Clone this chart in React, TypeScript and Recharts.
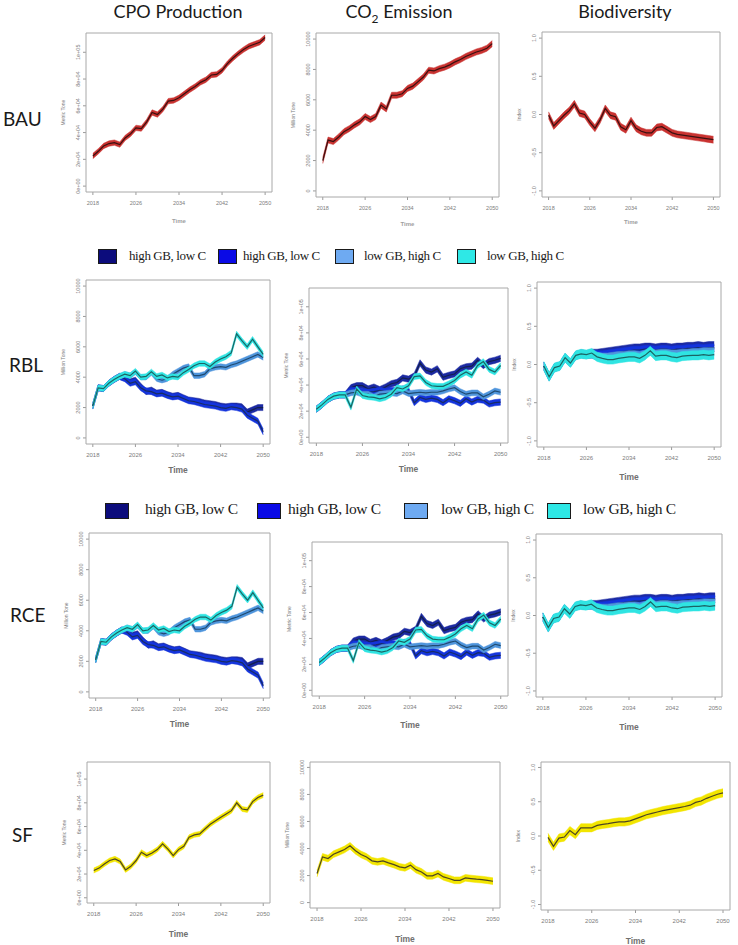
import { ComposedChart, Area, Line, XAxis, YAxis, ReferenceArea } from "recharts";

const years = [
  2018, 2019, 2020, 2021, 2022, 2023, 2024, 2025, 2026, 2027, 2028, 2029, 2030, 2031, 2032, 2033, 2034,
  2035, 2036, 2037, 2038, 2039, 2040, 2041, 2042, 2043, 2044, 2045, 2046, 2047, 2048, 2049, 2050,
];
const xTicks = [2018, 2026, 2034, 2042, 2050];

const tonneTicks = [0, 20000, 40000, 60000, 80000, 100000];
const tonneLabels = ["0e+00", "2e+04", "4e+04", "6e+04", "8e+04", "1e+05"];
const millionTicks = [0, 2000, 4000, 6000, 8000, 10000];
const millionLabels = ["0", "2000", "4000", "6000", "8000", "10000"];
const indexTicks = [-1, -0.5, 0, 0.5, 1];
const indexLabels = ["-1.0", "-0.5", "0.0", "0.5", "1.0"];

const columnTitles = ["CPO Production", "Emission", "Biodiversity"];
const rowNames = ["BAU", "RBL", "RCE", "SF"];
const scenarioNames = ["high GB, low C", "high GB, low C", "low GB, high C", "low GB, high C"];

// BAU
const bauCpo = [
  22500, 26000, 30000, 31800, 32500, 31000, 36000, 39000, 43500, 43000, 48000, 55000, 53500, 57500, 63500,
  64000, 66000, 69000, 72000, 74500, 77500, 79500, 83000, 83500, 86500, 91500, 95500, 99000, 102000, 104500,
  106000, 107500, 111000,
];
const bauCo2 = [
  2000, 3350, 3250, 3550, 3900, 4100, 4350, 4550, 4900, 4700, 4900, 5650, 5400, 6300, 6300, 6400, 6750, 6900,
  7200, 7500, 7950, 7900, 8050, 8150, 8300, 8500, 8650, 8850, 9000, 9150, 9250, 9400, 9700,
];
const bauBio = [
  -0.01, -0.15, -0.08, -0.01, 0.05, 0.14, 0.02, 0.0, -0.1, -0.18, -0.07, 0.08, -0.01, -0.03, -0.16, -0.2,
  -0.08, -0.18, -0.22, -0.24, -0.24, -0.17, -0.16, -0.2, -0.24, -0.26, -0.27, -0.28, -0.29, -0.3, -0.31,
  -0.32, -0.33,
];

// RBL / RCE, CPO column (Million Tone)
const rblCpoNavy = [
  2100, 3300, 3250, 3600, 3850, 4050, 3950, 3700, 3800, 3400, 3050, 3150, 2950, 3000, 2850, 2750, 2800, 2650,
  2500, 2450, 2400, 2300, 2250, 2200, 2100, 2050, 2100, 2100, 2050, 1700, 1850, 2000, 2000,
];
const rblCpoBlue = [
  2100, 3300, 3250, 3600, 3850, 4050, 3900, 3600, 3700, 3300, 3100, 3050, 2900, 2950, 2800, 2700, 2750, 2600,
  2450, 2400, 2300, 2200, 2150, 2100, 2000, 1950, 2050, 2000, 1900, 1500, 1300, 1100, 400,
];
const rblCpoLight = [
  2100, 3300, 3250, 3600, 3850, 4050, 4200, 4100, 4350, 4000, 4000, 4300, 3900, 3800, 3900, 4200, 4400, 4600,
  4700, 4100, 4100, 4200, 4550, 4650, 4700, 4650, 4800, 4900, 5050, 5200, 5350, 5500, 5300,
];
const rblCpoCyan = [
  2100, 3300, 3250, 3600, 3850, 4050, 4200, 4100, 4400, 4000, 4050, 4350, 4050, 4150, 3950, 4050, 4000, 4300,
  4500, 4750, 4900, 4900, 4700, 5000, 5200, 5350, 5600, 6850, 6400, 6000, 6500, 6000, 5500,
];

// RBL / RCE, CO2 column (Metric Tone)
const rblCo2Navy = [
  21500, 25000, 29000, 31500, 32500, 32500, 38000, 39500, 39500, 37000, 38500, 36500, 38500, 41000, 42000,
  45500, 44500, 47000, 57000, 51500, 50000, 52500, 46000, 47500, 48500, 52500, 54000, 54500, 59000, 55000,
  58000, 59000, 60500,
];
const rblCo2Blue = [
  21500, 25000, 29000, 31500, 32500, 32500, 36000, 35500, 35000, 34500, 35000, 36000, 35000, 36000, 35500,
  37000, 36000, 26500, 30500, 29000, 30000, 29000, 26500, 29500, 28000, 26000, 29500, 27000, 29000, 28500,
  25500, 26500, 27000,
];
const rblCo2Light = [
  21500, 25000, 29000, 31500, 32500, 32500, 34000, 34500, 33000, 33000, 31000, 33000, 33500, 34000, 33500,
  35500, 33500, 34000, 34500, 34000, 34500, 34500, 35500, 37000, 38000, 35000, 33000, 34000, 34000, 31000,
  33000, 35500, 34500,
];
const rblCo2Cyan = [
  21500, 25000, 29000, 31500, 32500, 32500, 23000, 37000, 32000, 31000, 30500, 29500, 30500, 33000, 38000,
  37000, 39500, 46500, 47000, 42000, 39500, 39000, 39000, 41000, 43500, 47500, 50000, 47500, 55000, 58000,
  52000, 50000, 55000,
];

// RBL / RCE, biodiversity index
const rblBioNavy = [
  -0.02, -0.16, -0.04, -0.02, 0.09, 0.02, 0.12, 0.14, 0.13, 0.15, 0.15, 0.16, 0.17, 0.18, 0.19, 0.2, 0.21,
  0.22, 0.22, 0.23, 0.23, 0.22, 0.23, 0.23, 0.22, 0.23, 0.23, 0.24, 0.24, 0.25, 0.24, 0.25, 0.25,
];
const rblBioBlue = [
  -0.02, -0.16, -0.04, -0.02, 0.09, 0.02, 0.12, 0.14, 0.13, 0.14, 0.13, 0.13, 0.14, 0.15, 0.16, 0.17, 0.18,
  0.19, 0.19, 0.2, 0.2, 0.19, 0.2, 0.2, 0.19, 0.2, 0.2, 0.21, 0.21, 0.22, 0.21, 0.22, 0.22,
];
const rblBioLight = [
  -0.02, -0.16, -0.04, -0.02, 0.09, 0.02, 0.12, 0.14, 0.13, 0.13, 0.11, 0.1, 0.1, 0.11, 0.12, 0.12, 0.13,
  0.13, 0.12, 0.14, 0.17, 0.14, 0.15, 0.15, 0.14, 0.14, 0.15, 0.15, 0.16, 0.16, 0.17, 0.17, 0.17,
];
const rblBioCyan = [
  -0.02, -0.16, -0.04, -0.02, 0.09, 0.02, 0.12, 0.14, 0.13, 0.15, 0.1, 0.08, 0.065, 0.065, 0.08, 0.09, 0.1,
  0.1, 0.08, 0.12, 0.18, 0.11, 0.12, 0.12, 0.1, 0.09, 0.11, 0.115, 0.12, 0.12, 0.13, 0.12, 0.13,
];

// SF
const sfCpo = [
  23000, 25000, 28500, 31400, 32800, 30500, 23500, 26500, 31400, 38400, 35600, 37800, 40600, 45500, 41000,
  35600, 40600, 43400, 51000, 53000, 53800, 58000, 62000, 65000, 67800, 70600, 73400, 80000, 74800, 74000,
  81000, 84500, 86500,
];
const sfCo2 = [
  2150, 3380, 3260, 3580, 3750, 3930, 4200, 3830, 3560, 3380, 3090, 3010, 3090, 2940, 2810, 2640, 2570, 2770,
  2440, 2270, 1980, 1980, 2150, 1900, 1780, 1650, 1650, 1830, 1780, 1730, 1700, 1650, 1580,
];
const sfBio = [
  -0.02, -0.15, -0.03, -0.015, 0.08, 0.02, 0.12, 0.12, 0.12, 0.155, 0.17, 0.18, 0.195, 0.205, 0.205, 0.22,
  0.25, 0.28, 0.31, 0.33, 0.35, 0.37, 0.385, 0.4, 0.415, 0.43, 0.45, 0.49, 0.51, 0.55, 0.58, 0.61, 0.63,
];

const X_DOMAIN: [number, number] = [2016.72, 2051.28];

type AxisCfg = { ticks: number[]; labels: string[]; domain: [number, number]; title: string };
const tonneAxis: AxisCfg = { ticks: tonneTicks, labels: tonneLabels, domain: [-4400, 114400], title: "Metric Tone" };
const millionAxis: AxisCfg = { ticks: millionTicks, labels: millionLabels, domain: [-400, 10400], title: "Million Tone" };
const indexAxis: AxisCfg = { ticks: indexTicks, labels: indexLabels, domain: [-1.08, 1.08], title: "Index" };

type Series = { values: number[]; spread: number; band: string; line: string };

const RED = { band: "#c93230", line: "#3a1010" };
const YELLOW = { band: "#f2e500", line: "#4d4522" };
const NAVY = { band: "#1c2aa2", line: "#13204e" };
const BLUE = { band: "#1434dc", line: "#182c66" };
const LIGHT = { band: "#4f95dc", line: "#1f4a70" };
const CYAN = { band: "#2fe4e2", line: "#1b6464" };
const legendColors = ["#0c0c7c", "#0a0ae6", "#6eaaf2", "#2ee8e6"];

const rblCpoSeries: Series[] = [
  { values: rblCpoNavy, spread: 200, ...NAVY },
  { values: rblCpoBlue, spread: 200, ...BLUE },
  { values: rblCpoLight, spread: 180, ...LIGHT },
  { values: rblCpoCyan, spread: 180, ...CYAN },
];
const rblCo2Series: Series[] = [
  { values: rblCo2Navy, spread: 2400, ...NAVY },
  { values: rblCo2Blue, spread: 2400, ...BLUE },
  { values: rblCo2Light, spread: 2200, ...LIGHT },
  { values: rblCo2Cyan, spread: 2200, ...CYAN },
];
const rblBioSeries: Series[] = [
  { values: rblBioNavy, spread: 0.05, ...NAVY },
  { values: rblBioBlue, spread: 0.05, ...BLUE },
  { values: rblBioLight, spread: 0.05, ...LIGHT },
  { values: rblBioCyan, spread: 0.06, ...CYAN },
];

type PanelProps = {
  left: number;
  top: number;
  w: number;
  h: number;
  axis: AxisCfg;
  series: Series[];
  timeGap: number;
  faint?: boolean;
};

const PAD_L = 32;
const PAD_T = 4;
const PAD_R = 4;
const PAD_B = 44;

function Panel({ left, top, w, h, axis, series, timeGap, faint }: PanelProps) {
  const data = years.map((year, i) => {
    const row: Record<string, number | number[]> = { year };
    series.forEach((s, k) => {
      row["b" + k] = [s.values[i] - s.spread, s.values[i] + s.spread];
      row["m" + k] = s.values[i];
    });
    return row;
  });
  const tickFs = faint ? 5.5 : 6;
  return (
    <div style={{ position: "absolute", left: left - PAD_L, top: top - PAD_T }}>
      <ComposedChart
        width={w + PAD_L + PAD_R}
        height={h + PAD_T + PAD_B}
        data={data}
        margin={{ top: PAD_T, right: PAD_R, left: 0, bottom: 0 }}
      >
        <XAxis
          dataKey="year"
          type="number"
          domain={X_DOMAIN}
          ticks={xTicks}
          allowDataOverflow
          height={PAD_B}
          axisLine={false}
          tickLine={{ stroke: "#9a9a9a" }}
          tickSize={3}
          tickMargin={6}
          tick={{ fontSize: tickFs, fill: "#7c7c7c", fontFamily: "Liberation Sans" }}
          label={{
            content: () => (
              <text
                x={PAD_L + w / 2}
                y={PAD_T + h + timeGap}
                textAnchor="middle"
                dominantBaseline="central"
                fontSize={faint ? 6 : 8.5}
                fontWeight="bold"
                fill={faint ? "#a0a0a0" : "#707070"}
                fontFamily="Liberation Sans"
              >
                Time
              </text>
            ),
          }}
        />
        <YAxis
          type="number"
          domain={axis.domain}
          ticks={axis.ticks}
          allowDataOverflow
          width={PAD_L}
          axisLine={false}
          tickLine={{ stroke: "#9a9a9a" }}
          tickSize={3}
          tickMargin={3}
          tick={(p: any) => (
            <text
              x={p.x}
              y={p.y}
              transform={`rotate(-90 ${p.x} ${p.y})`}
              textAnchor="middle"
              fontSize={5.5}
              fill="#7c7c7c"
              fontFamily="Liberation Sans"
            >
              {axis.labels[axis.ticks.indexOf(p.payload.value)]}
            </text>
          )}
          label={{
            content: () => (
              <text
                x={PAD_L - 21}
                y={PAD_T + h / 2}
                transform={`rotate(-90 ${PAD_L - 21} ${PAD_T + h / 2})`}
                textAnchor="middle"
                fontSize={5}
                fill="#7c7c7c"
                fontFamily="Liberation Sans"
              >
                {axis.title}
              </text>
            ),
          }}
        />
        {series.flatMap((s, k) => [
          <Area
            key={"b" + k}
            type="linear"
            dataKey={"b" + k}
            fill={s.band}
            fillOpacity={1}
            stroke={s.band}
            strokeWidth={0.5}
            dot={false}
            activeDot={false}
            isAnimationActive={false}
            zIndex={100 + 2 * k}
          />,
          <Line
            key={"m" + k}
            type="linear"
            dataKey={"m" + k}
            stroke={s.line}
            strokeWidth={1.2}
            dot={false}
            activeDot={false}
            isAnimationActive={false}
            zIndex={101 + 2 * k}
          />,
        ])}
        <ReferenceArea
          x1={X_DOMAIN[0]}
          x2={X_DOMAIN[1]}
          y1={axis.domain[0]}
          y2={axis.domain[1]}
          fill="none"
          stroke="#a8a8a8"
          strokeWidth={1}
          ifOverflow="visible"
          zIndex={700}
        />
      </ComposedChart>
    </div>
  );
}

type LegendProps = { squares: number[]; texts: number[]; cy: number; sw: number; sh: number; fs: number };

function ScenarioLegend({ squares, texts, cy, sw, sh, fs }: LegendProps) {
  return (
    <>
      {scenarioNames.map((name, i) => (
        <div key={i}>
          <div
            style={{
              position: "absolute",
              left: squares[i],
              top: cy - sh / 2,
              width: sw - 3,
              height: sh - 3,
              background: legendColors[i],
              border: "1.5px solid #1a1a1a",
            }}
          />
          <div
            style={{
              position: "absolute",
              left: texts[i],
              top: cy - fs * 0.62,
              fontFamily: "Liberation Serif",
              fontSize: fs,
              lineHeight: 1,
              color: "#1a1a1a",
              whiteSpace: "nowrap",
              letterSpacing: -0.4,
            }}
          >
            {name}
          </div>
        </div>
      ))}
    </>
  );
}

const titleStyle = {
  position: "absolute" as const,
  top: 0,
  fontFamily: "Lato",
  fontSize: 18,
  color: "#1a1a1a",
  transform: "translateX(-50%)",
  whiteSpace: "nowrap" as const,
};
const rowStyle = {
  position: "absolute" as const,
  fontFamily: "Lato",
  fontSize: 19,
  color: "#1a1a1a",
  transform: "translateY(-50%)",
};

export default function App() {
  return (
    <div style={{ position: "absolute", left: 0, top: 0, width: 738, height: 945, background: "#fff", overflow: "hidden" }}>
      <div style={{ ...titleStyle, left: 178 }}>{columnTitles[0]}</div>
      <div style={{ ...titleStyle, left: 399 }}>
        CO<sub style={{ fontSize: 12 }}>2</sub> {columnTitles[1]}
      </div>
      <div style={{ ...titleStyle, left: 625 }}>{columnTitles[2]}</div>

      <div style={{ ...rowStyle, left: 3, top: 118 }}>{rowNames[0]}</div>
      <div style={{ ...rowStyle, left: 9, top: 364 }}>{rowNames[1]}</div>
      <div style={{ ...rowStyle, left: 10, top: 614 }}>{rowNames[2]}</div>
      <div style={{ ...rowStyle, left: 12, top: 834 }}>{rowNames[3]}</div>

      {/* BAU */}
      <Panel left={86} top={33} w={186} h={159} axis={tonneAxis} series={[{ values: bauCpo, spread: 2000, ...RED }]} timeGap={29} faint />
      <Panel left={316} top={33} w={183} h={164} axis={millionAxis} series={[{ values: bauCo2, spread: 200, ...RED }]} timeGap={27} faint />
      <Panel left={542} top={32} w={178} h={165} axis={indexAxis} series={[{ values: bauBio, spread: 0.045, ...RED }]} timeGap={25} faint />

      {/* RBL */}
      <ScenarioLegend squares={[98, 218, 335, 457]} texts={[129, 243, 364, 487]} cy={257} sw={20} sh={16} fs={13} />
      <Panel left={86} top={280} w={184} h={164} axis={millionAxis} series={rblCpoSeries} timeGap={26} />
      <Panel left={309} top={288} w={199} h={155} axis={tonneAxis} series={rblCo2Series} timeGap={26} />
      <Panel left={537} top={282} w={184} h={165} axis={indexAxis} series={rblBioSeries} timeGap={30} />

      {/* RCE */}
      <ScenarioLegend squares={[105, 257, 404, 547]} texts={[145, 288, 441, 583]} cy={511} sw={25} sh={17} fs={15.5} />
      <Panel left={89} top={533} w={181} h={165} axis={millionAxis} series={rblCpoSeries} timeGap={26} />
      <Panel left={312} top={542} w={196} h={154} axis={tonneAxis} series={rblCo2Series} timeGap={29} />
      <Panel left={536} top={534} w={186} h={163} axis={indexAxis} series={rblBioSeries} timeGap={30} />

      {/* SF */}
      <Panel left={87} top={762} w={183} h={141} axis={tonneAxis} series={[{ values: sfCpo, spread: 2100, ...YELLOW }]} timeGap={31} />
      <Panel left={310} top={762} w={190} h={146} axis={millionAxis} series={[{ values: sfCo2, spread: 250, ...YELLOW }]} timeGap={31} />
      <Panel left={541} top={762} w={189} h={148} axis={indexAxis} series={[{ values: sfBio, spread: 0.06, ...YELLOW }]} timeGap={31} />
    </div>
  );
}
